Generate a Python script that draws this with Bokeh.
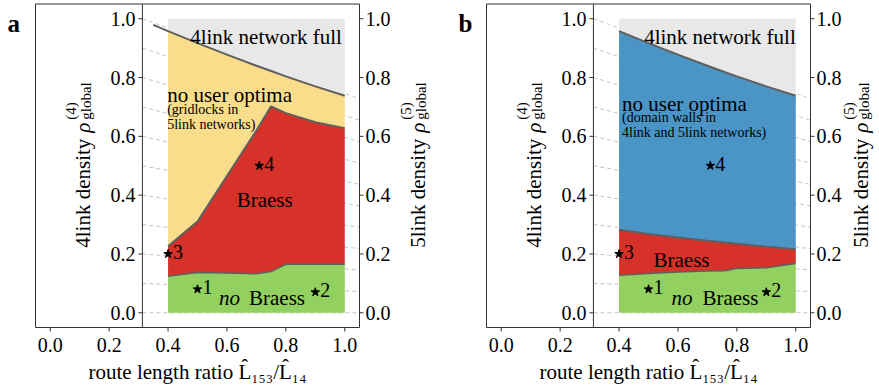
import numpy as np
from bokeh.plotting import figure
from bokeh.models import Range1d, Label
from bokeh.layouts import row
from bokeh.embed import file_html
from bokeh.resources import INLINE
from bokeh.core.properties import value

# ---------------- data ----------------
# panel a
x_a = [0.4, 0.5, 0.6, 0.7, 0.75, 0.8, 0.9, 1.0]
full_a = [0.958, 0.917, 0.878, 0.840, 0.822, 0.804, 0.770, 0.738]
braess_lo_a = [0.124, 0.137, 0.135, 0.133, 0.140, 0.165, 0.165, 0.165]
braess_hi_a = [0.226, 0.310, 0.465, 0.620, 0.702, 0.679, 0.648, 0.628]
full_line_x_a = [0.35, 0.4, 0.5, 0.6, 0.7, 0.75, 0.8, 0.9, 1.0]
full_line_y_a = [0.979, 0.958, 0.917, 0.878, 0.840, 0.822, 0.804, 0.770, 0.738]

# panel b
x_b = [0.4, 0.5, 0.6, 0.7, 0.76, 0.8, 0.9, 1.0]
full_b = [0.958, 0.917, 0.878, 0.840, 0.818, 0.804, 0.770, 0.738]
braess_lo_b = [0.128, 0.134, 0.139, 0.142, 0.143, 0.151, 0.153, 0.168]
braess_hi_b = [0.282, 0.268, 0.256, 0.245, 0.239, 0.235, 0.225, 0.216]

# marked parameter points
star_x = [0.5, 0.9, 0.4, 0.71]
star_y = [0.08, 0.07, 0.2, 0.5]
star_names = ["1", "2", "3", "4"]

tick_vals = [0.0, 0.2, 0.4, 0.6, 0.8, 1.0]
tick_labels = ["0.0", "0.2", "0.4", "0.6", "0.8", "1.0"]
guide_rho4 = [0.0, 0.1, 0.2, 0.3, 0.4, 0.5, 0.6, 0.7, 0.8, 0.9, 1.0]
rho5_per_rho4 = 8 / 11
left_axis_x = 0.313
box_lo, box_hi = -0.05, 1.05

# ---------------- style ----------------
FONT = "Liberation Serif, DejaVu Serif, serif"
C_FULL = "#e8e8e8"
C_YELLOW = "#f9dd8b"
C_RED = "#d6322a"
C_GREEN = "#92d05f"
C_BLUE = "#4a95c6"
C_LINE = "#5f5f5f"
C_GUIDE = "#c4c4c4"
C_AX = "#333333"

# geometry of the picture (pixels from the top-left corner)
FIG_TOP = 0
FIG_H = 385
BOX_TOP = 3.5
BOX_BOTTOM = 327


def make_panel(letter, fig_left, fig_w, box_left, box_right, xs, full, lo, hi,
               mid_color, line_x, line_y, texts, right_lab_off):
    ppx = (box_right - box_left) / (box_hi - box_lo)
    ppy = (BOX_BOTTOM - BOX_TOP) / (box_hi - box_lo)

    def px2x(px):
        return box_lo + (px - box_left) / ppx

    def py2y(py):
        return box_hi - (py - BOX_TOP) / ppy

    p = figure(width=fig_w, height=FIG_H,
               x_range=Range1d(px2x(fig_left), px2x(fig_left + fig_w)),
               y_range=Range1d(py2y(FIG_TOP + FIG_H), py2y(FIG_TOP)),
               output_backend="svg", toolbar_location=None,
               x_axis_location=None, y_axis_location=None,
               min_border=0, outline_line_color=None)
    p.xgrid.visible = False
    p.ygrid.visible = False
    p.background_fill_color = "white"
    p.border_fill_color = "white"

    def lab(x, y, text, size, align="left", baseline="alphabetic",
            angle=0.0, style="normal", xo=0, yo=0):
        p.add_layout(Label(x=x, y=y, text=text, text_font=FONT,
                           text_font_size=f"{size}px", text_align=align,
                           text_baseline=baseline, angle=angle,
                           text_font_style=style, x_offset=xo, y_offset=yo,
                           text_color="black"))

    # guide lines linking 4link density to 5link density
    g = np.array(guide_rho4)
    p.segment(x0=[left_axis_x] * len(g), y0=g, x1=[box_hi] * len(g),
              y1=g * rho5_per_rho4, line_color=C_GUIDE, line_width=1,
              line_dash="4 3")

    # regions
    n = len(xs)
    p.varea(x=xs, y1=[0.0] * n, y2=lo, fill_color=C_GREEN)
    p.varea(x=xs, y1=lo, y2=hi, fill_color=C_RED)
    p.varea(x=xs, y1=hi, y2=full, fill_color=mid_color)
    p.varea(x=xs, y1=full, y2=[1.0] * n, fill_color=C_FULL)

    # boundaries
    p.line(xs, lo, line_color=C_LINE, line_width=1.5)
    p.line(xs, hi, line_color=C_LINE, line_width=2)
    p.line(line_x, line_y, line_color=C_LINE, line_width=2)

    # frame box and inner left axis
    p.quad(left=[box_lo], right=[box_hi], bottom=[box_lo], top=[box_hi],
           fill_color=None, line_color=C_AX, line_width=1)
    p.segment(x0=[left_axis_x], y0=[box_lo], x1=[left_axis_x], y1=[box_hi],
              line_color=C_AX, line_width=1)

    nt = len(tick_vals)
    # bottom axis
    p.ray(x=tick_vals, y=[box_lo] * nt, length=4, length_units="screen",
          angle=-np.pi / 2, line_color=C_AX, line_width=1)
    p.text(x=tick_vals, y=[py2y(344)] * nt, text=tick_labels,
           text_align="center", text_baseline="middle",
           text_font=value(FONT), text_font_size=value("20px"),
           text_color="black")
    p.text(x=[0.5], y=[py2y(371)],
           text=["route length ratio L\u0302\u2081\u2085\u2083/L\u0302\u2081\u2084"],
           text_align="center", text_baseline="middle",
           text_font=value(FONT), text_font_size=value("21px"),
           text_color="black")

    # left (4link) axis
    p.ray(x=[left_axis_x] * nt, y=tick_vals, length=4, length_units="screen",
          angle=np.pi, line_color=C_AX, line_width=1)
    p.text(x=[left_axis_x] * nt, y=tick_vals, text=tick_labels,
           x_offset=-7, text_align="right", text_baseline="middle",
           text_font=value(FONT), text_font_size=value("20px"),
           text_color="black")
    lo_x = -59
    lab(left_axis_x, 0.5, "4link density", 21, angle=np.pi / 2,
        xo=lo_x, yo=-82)
    lab(left_axis_x, 0.5, "\u03c1", 21, angle=np.pi / 2, style="italic",
        xo=lo_x, yo=33)
    lab(left_axis_x, 0.5, "(4)", 15, angle=np.pi / 2, xo=lo_x - 12, yo=46)
    lab(left_axis_x, 0.5, "global", 15, angle=np.pi / 2, xo=lo_x + 3, yo=46)

    # right (5link) axis
    p.ray(x=[box_hi] * nt, y=tick_vals, length=4, length_units="screen",
          angle=0.0, line_color=C_AX, line_width=1)
    p.text(x=[box_hi] * nt, y=tick_vals, text=tick_labels,
           x_offset=6, text_align="left", text_baseline="middle",
           text_font=value(FONT), text_font_size=value("20px"),
           text_color="black")
    ro = right_lab_off
    lab(box_hi, 0.5, "5link density", 21, angle=np.pi / 2, xo=ro, yo=-82)
    lab(box_hi, 0.5, "\u03c1", 21, angle=np.pi / 2, style="italic",
        xo=ro, yo=33)
    lab(box_hi, 0.5, "(5)", 15, angle=np.pi / 2, xo=ro - 12, yo=46)
    lab(box_hi, 0.5, "global", 15, angle=np.pi / 2, xo=ro + 3, yo=46)

    # region texts
    for (tx, ty, tt, ts, ta, st) in texts:
        lab(tx, ty, tt, ts, align=ta, style=st)

    # stars
    p.scatter(x=star_x, y=star_y, marker="star", size=9,
              fill_color="black", line_color="black")
    for sx, sy, sn in zip(star_x, star_y, star_names):
        lab(sx, sy, sn, 20, baseline="middle", xo=5, yo=2)

    # panel letter
    lab(px2x(box_left - 28), py2y(23), letter, 25, style="bold")
    return p


texts_a = [
    (0.99, 0.938, "4link network full", 21, "right", "normal"),
    (0.397, 0.741, "no user optima", 21, "left", "normal"),
    (0.397, 0.690, "(gridlocks in", 14, "left", "normal"),
    (0.397, 0.639, "5link networks)", 14, "left", "normal"),
    (0.728, 0.384, "Braess", 21, "center", "normal"),
    (0.573, 0.05, "no", 21, "left", "italic"),
    (0.675, 0.05, "Braess", 21, "left", "normal"),
]
texts_b = [
    (1.0, 0.938, "4link network full", 21, "right", "normal"),
    (0.41, 0.711, "no user optima", 21, "left", "normal"),
    (0.41, 0.664, "(domain walls in", 14, "left", "normal"),
    (0.41, 0.613, "4link and 5link networks)", 14, "left", "normal"),
    (0.612, 0.18, "Braess", 21, "center", "normal"),
    (0.578, 0.05, "no", 21, "left", "italic"),
    (0.683, 0.05, "Braess", 21, "left", "normal"),
]

pa = make_panel("a", 0, 440, 35, 359, x_a, full_a, braess_lo_a, braess_hi_a,
                C_YELLOW, full_line_x_a, full_line_y_a, texts_a, 58)
pb = make_panel("b", 440, 439, 486, 810, x_b, full_b, braess_lo_b,
                braess_hi_b, C_BLUE, x_b, full_b, texts_b, 50)

layout = row(pa, pb)
open("out.html", "w").write(file_html(layout, INLINE))
